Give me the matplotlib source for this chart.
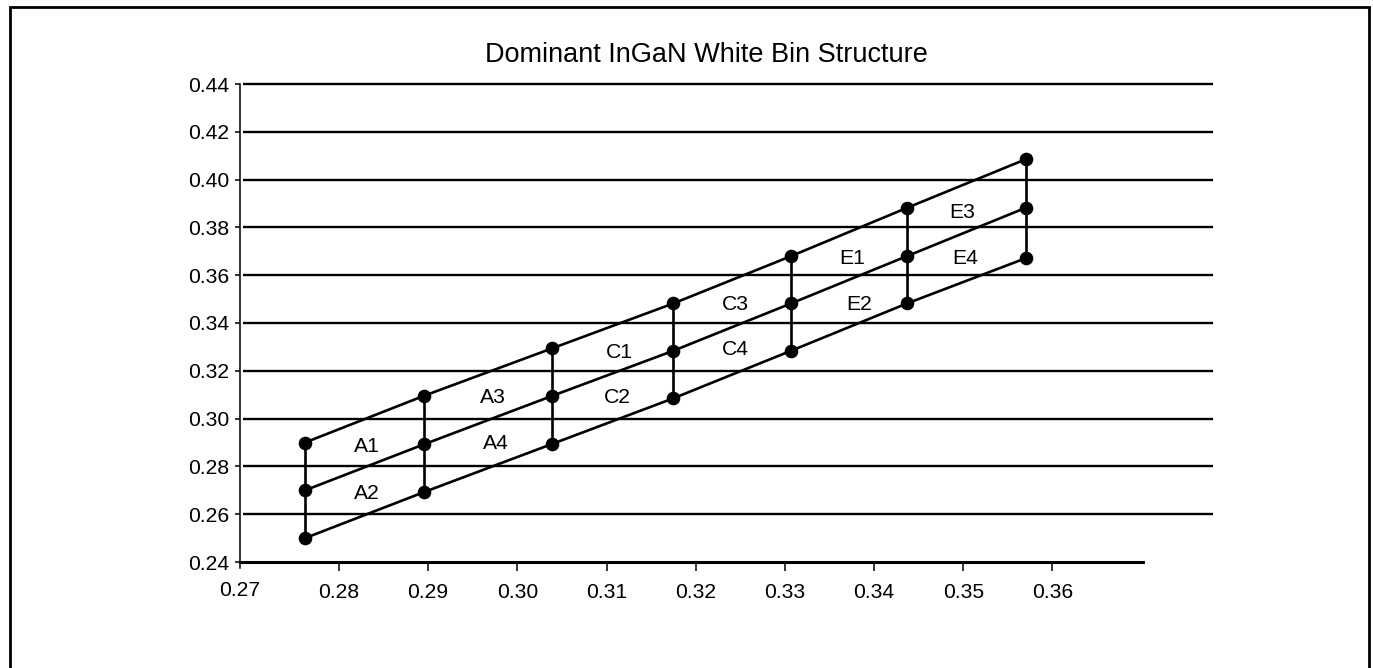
import matplotlib
matplotlib.use("Agg")
import matplotlib.pyplot as plt
from matplotlib.patches import Rectangle

plt.rcParams['font.family'] = ['Liberation Sans', 'DejaVu Sans']

# ---- data (CIE x, y of bin corners) ----
col_x = [0.2762, 0.2895, 0.3039, 0.3175, 0.3307, 0.3437, 0.3570]
top_y = [0.290, 0.3095, 0.3294, 0.3482, 0.3680, 0.3882, 0.4085]
mid_y = [0.270, 0.2892, 0.3095, 0.3284, 0.3482, 0.3680, 0.3882]
bot_y = [0.250, 0.2692, 0.2894, 0.3085, 0.3284, 0.3482, 0.3671]

bin_names = ['A1', 'A2', 'A3', 'A4', 'C1', 'C2', 'C3', 'C4', 'E1', 'E2', 'E3', 'E4']
bin_label_x = [0.2831, 0.2831, 0.2973, 0.2976, 0.3114, 0.3112, 0.3244, 0.3245, 0.3375, 0.3383, 0.3499, 0.3502]
bin_label_y = [0.2890, 0.2697, 0.3095, 0.2906, 0.3283, 0.3095, 0.3487, 0.3298, 0.3677, 0.3487, 0.3870, 0.3677]

x_ticks = [0.28, 0.29, 0.30, 0.31, 0.32, 0.33, 0.34, 0.35, 0.36]
x_tick_labels = ['0.28', '0.29', '0.30', '0.31', '0.32', '0.33', '0.34', '0.35', '0.36']
y_ticks = [0.24, 0.26, 0.28, 0.30, 0.32, 0.34, 0.36, 0.38, 0.40, 0.42, 0.44]
y_tick_labels = ['0.24', '0.26', '0.28', '0.30', '0.32', '0.34', '0.36', '0.38', '0.40', '0.42', '0.44']
title = 'Dominant InGaN White Bin Structure'

# ---- figure ----
W, H = 1373, 668
fig = plt.figure(figsize=(W / 100, H / 100), dpi=100)
fig.patch.set_facecolor('white')

ax = fig.add_axes([240 / W, 1 - 562 / H, (1213 - 240) / W, (562 - 84) / H])
x_left, x_right = 0.2689, 0.3780
ax.set_xlim(x_left, x_right)
ax.set_ylim(0.24, 0.44)

# horizontal grid lines
ax.hlines(y_ticks[1:], x_left + 0.0003, x_right, colors='black', linewidth=1.7,
          clip_on=False, zorder=1)

# bin structure lines
lw = 1.9
for row in (top_y, mid_y, bot_y):
    ax.plot(col_x, row, color='black', linewidth=lw, zorder=3, solid_capstyle='round')
for cx, t, m, b in zip(col_x, top_y, mid_y, bot_y):
    ax.plot([cx, cx, cx], [t, m, b], color='black', linewidth=lw, zorder=3)
for row in (top_y, mid_y, bot_y):
    ax.plot(col_x, row, linestyle='none', marker='o', markersize=8.8,
            markerfacecolor='black', markeredgecolor='black', zorder=4)

fs = 15.2
for name, lx, ly in zip(bin_names, bin_label_x, bin_label_y):
    ax.text(lx, ly, name, ha='center', va='center_baseline', fontsize=fs, zorder=5)

# axes styling
for s in ('top', 'right'):
    ax.spines[s].set_visible(False)
ax.spines['left'].set_linewidth(1.1)
ax.spines['left'].set_bounds(0.2375, 0.44)
ax.spines['bottom'].set_linewidth(2.2)
ax.spines['bottom'].set_bounds(x_left, 0.3701)
ax.spines['bottom'].set_zorder(6)

ax.set_xticks(x_ticks)
ax.set_xticklabels(x_tick_labels)
ax.set_yticks(y_ticks)
ax.set_yticklabels(y_tick_labels)
ax.tick_params(axis='x', direction='out', length=6.5, width=1.1, pad=8.5, labelsize=fs)
ax.tick_params(axis='y', direction='out', length=3.6, width=1.1, pad=4.3, labelsize=fs)

ax.annotate('0.27', xy=(0, 0), xycoords='axes fraction', xytext=(0, -24.5),
            textcoords='offset points', ha='center', va='baseline', fontsize=fs)

fig.text(706 / W, 1 - 61.7 / H, title, ha='center', va='baseline', fontsize=19.5)

# outer frame
fig.add_artist(Rectangle((10.3 / W, -0.05), (1368.7 - 10.3) / W, 1 - 7.3 / H + 0.05,
                         transform=fig.transFigure, fill=False, edgecolor='black',
                         linewidth=2.0, clip_on=False))

fig.savefig('out.png', dpi=100, facecolor='white')
